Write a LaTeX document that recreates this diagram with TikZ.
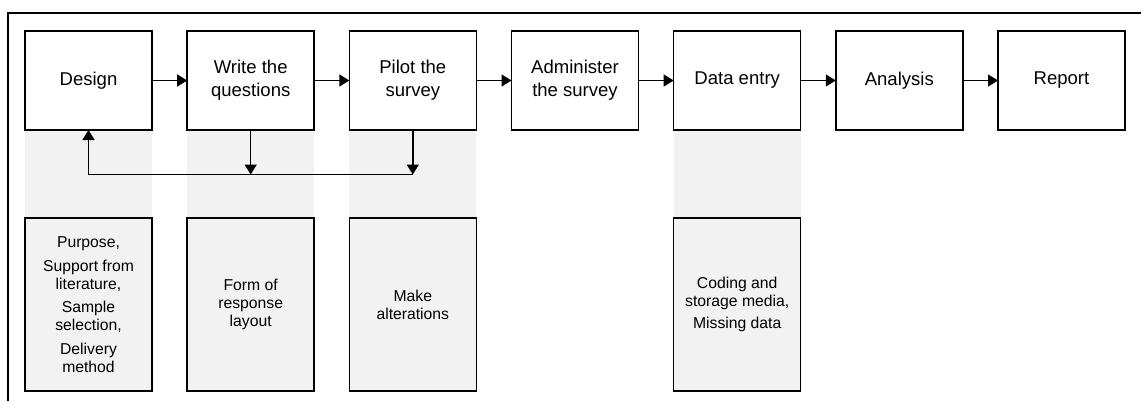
\documentclass[tikz,border=0pt]{standalone}
\usepackage{fontspec}
\setmainfont{Liberation Sans}
\usetikzlibrary{arrows.meta,backgrounds}
\tikzset{
  topbox/.style={draw, line width=1.1pt, fill=white, minimum width=95.25pt, minimum height=74.25pt,
    inner sep=0pt, outer sep=0pt, align=center, font=\fontsize{13.9}{17}\selectfont},
  botbox/.style={draw, line width=1.1pt, fill=black!5, minimum width=95.25pt, minimum height=129.75pt,
    inner sep=0pt, outer sep=0pt, align=center, font=\fontsize{11.8}{13.3}\selectfont},
  column/.style={fill=black!5},
  arr/.style={line width=1.1pt, -{Triangle[length=7.5pt,width=9pt]}},
  frame/.style={line width=1.1pt}
}
\begin{document}
\begin{tikzpicture}[x=0.75pt,y=-0.75pt]
\useasboundingbox (0,0) rectangle (1141,401);
\draw[frame] (8,401) -- (8,13) -- (1141,13);
% top row
\node[topbox] (d1) at (88.5,80.5) {Design};
\node[topbox] (d2) at (250.7,80.5) {Write the\\questions};
\node[topbox] (d3) at (412.8,80.5) {Pilot the\\survey};
\node[topbox] (d4) at (575.0,80.5) {Administer\\the survey};
\node[topbox] (d5) at (737.2,80.5) {Data entry};
\node[topbox] (d6) at (899.3,80.5) {Analysis};
\node[topbox] (d7) at (1061.5,80.5) {Report};
% bottom row
\node[botbox] (b1) at (88.5,304.5) {Purpose,\\[4.5pt]Support from\\literature,\\[4.5pt]Sample\\selection,\\[4.5pt]Delivery\\method};
\node[botbox] (b2) at (250.7,304.5) {Form of\\response\\layout};
\node[botbox] (b3) at (412.8,304.5) {Make\\alterations};
\node[botbox] (b5) at (737.2,304.5) {Coding and\\storage media,\\[3pt]Missing data};
% grey columns
\begin{pgfonlayer}{background}
\fill[column] (d1.south west) rectangle (b1.north east);
\fill[column] (d2.south west) rectangle (b2.north east);
\fill[column] (d3.south west) rectangle (b3.north east);
\fill[column] (d5.south west) rectangle (b5.north east);
\end{pgfonlayer}
% main flow
\draw[arr] (d1) -- (d2);
\draw[arr] (d2) -- (d3);
\draw[arr] (d3) -- (d4);
\draw[arr] (d4) -- (d5);
\draw[arr] (d5) -- (d6);
\draw[arr] (d6) -- (d7);
% feedback
\coordinate (fb) at (0,174.5);
\draw[arr] (d2.south) -- (d2.south |- fb);
\draw[arr] (d3.south) -- (d3.south |- fb);
\draw[arr] (d3.south |- fb) -- (d1.south |- fb) -- (d1.south);
\end{tikzpicture}
\end{document}
